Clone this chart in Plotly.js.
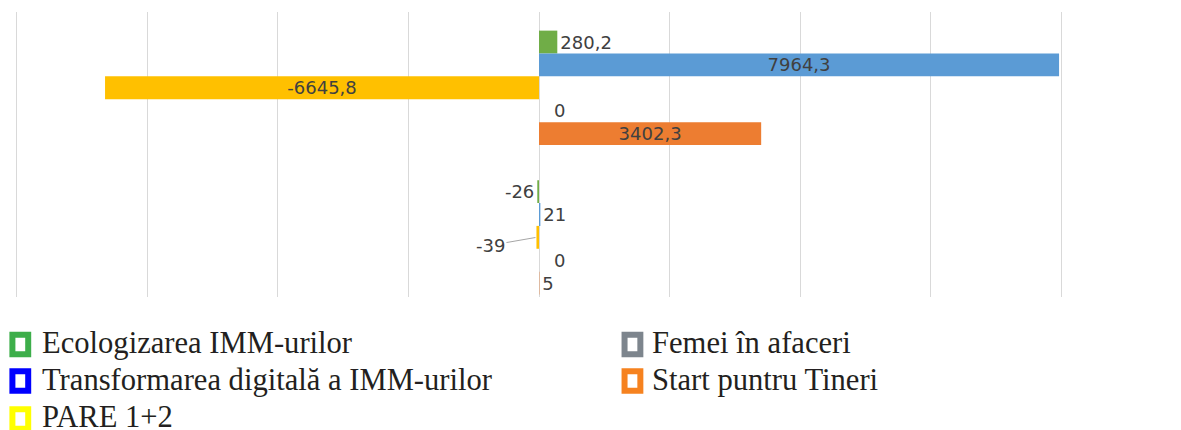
<!DOCTYPE html>
<html>
<head>
<meta charset="utf-8">
<script src="https://cdn.plot.ly/plotly-3.0.1.min.js"></script>
<style>html,body{margin:0;padding:0;background:#fff;}#chart{width:1181px;height:430px;}</style>
</head>
<body>
<div id="chart"></div>
<script>
// ---- data ----
const categories = ['Grupul 1', 'Grupul 2'];
const seriesNames = ['Ecologizarea IMM-urilor', 'Transformarea digitală a IMM-urilor', 'PARE 1+2', 'Femei în afaceri', 'Start puntru Tineri'];
const ecologizarea = [280.2, -26];
const transformarea = [7964.3, 21];
const pare = [-6645.8, -39];
const femei = [0, 0];
const start = [3402.3, 5];
const xTickValues = [-8000, -6000, -4000, -2000, 0, 2000, 4000, 6000, 8000];

// ---- styles ----
const barColors = ['#70ad47', '#5b9bd5', '#ffc000', '#a5a5a5', '#ed7d31'];
const legendColors = ['#3dae4a', '#0000ff', '#ffff00', '#7d858d', '#f6821f'];
const seriesValues = [ecologizarea, transformarea, pare, femei, start];
const labelFont = {family: 'DejaVu Sans', size: 18, color: '#404040'};

const fmt = v => String(v).replace('.', ',');

const traces = seriesValues.map((vals, i) => ({
  type: 'bar',
  orientation: 'h',
  name: seriesNames[i],
  y: categories,
  x: vals,
  marker: {color: barColors[i]},
  text: vals.map((v, j) => (i === 2 && j === 1) || v === 0 ? '' : fmt(v)),
  textposition: 'auto',
  insidetextanchor: 'middle',
  constraintext: 'none',
  cliponaxis: false,
  textfont: labelFont,
  insidetextfont: labelFont,
  outsidetextfont: labelFont,
  hoverinfo: 'x+name',
  showlegend: false
}));

// legend (drawn as shapes + annotations, two columns)
const legendPos = [
  {col: 0, row: 0}, {col: 0, row: 1}, {col: 0, row: 2},
  {col: 1, row: 0}, {col: 1, row: 1}
];
const colSquareX = [0.006, 0.589];
const colTextX = [0.0243, 0.606];
const rowY = [-0.1667, -0.2947, -0.428];
const rowTextY = [-0.163, -0.291, -0.42];

const shapes = legendPos.map((p, i) => ({
  type: 'rect', xref: 'paper', yref: 'paper',
  xsizemode: 'pixel', ysizemode: 'pixel',
  xanchor: colSquareX[p.col], yanchor: rowY[p.row],
  x0: -7.9, x1: 7.9, y0: -9.8, y1: 9.8,
  fillcolor: '#ffffff',
  line: {color: legendColors[i], width: 6}
}));

const annotations = legendPos.map((p, i) => ({
  xref: 'paper', yref: 'paper',
  x: colTextX[p.col], y: rowTextY[p.row],
  xanchor: 'left', yanchor: 'middle',
  text: seriesNames[i], showarrow: false,
  font: {family: 'Liberation Serif', size: 30.6, color: '#231f20'}
}));

// data label with leader line for PARE 1+2, second group
annotations.push({
  x: pare[1], y: categories[1], xref: 'x', yref: 'y',
  text: fmt(pare[1]), showarrow: true, arrowhead: 0,
  arrowcolor: '#a6a6a6', arrowwidth: 1, ax: -46, ay: 8, standoff: 1,
  font: labelFont
});

// labels for zero-valued bars (Femei în afaceri, 4th bar of each group)
femei.forEach((v, j) => {
  annotations.push({
    x: v, y: categories[j], xref: 'x', yref: 'y',
    xanchor: 'left', yanchor: 'middle', xshift: 13, yshift: -23,
    text: fmt(v), showarrow: false, font: labelFont
  });
});

const layout = {
  width: 1181, height: 430,
  margin: {l: 14, r: 117, t: 12, b: 133},
  paper_bgcolor: '#ffffff', plot_bgcolor: '#ffffff',
  barmode: 'group', bargap: 0.235, bargroupgap: 0,
  separators: ', ',
  xaxis: {
    range: [-8040, 8040], tickvals: xTickValues, showticklabels: false,
    showgrid: true, gridcolor: '#d9d9d9', gridwidth: 1,
    zeroline: true, zerolinecolor: '#d9d9d9', zerolinewidth: 1,
    showline: false, ticks: '', fixedrange: true
  },
  yaxis: {
    type: 'category', range: [1.399, -0.507], showticklabels: false,
    showgrid: false, zeroline: false, showline: false, ticks: '', fixedrange: true
  },
  showlegend: false,
  shapes: shapes,
  annotations: annotations,
  font: {family: 'DejaVu Sans', color: '#404040'}
};

Plotly.newPlot('chart', traces, layout, {displayModeBar: false, staticPlot: true});
</script>
</body>
</html>
